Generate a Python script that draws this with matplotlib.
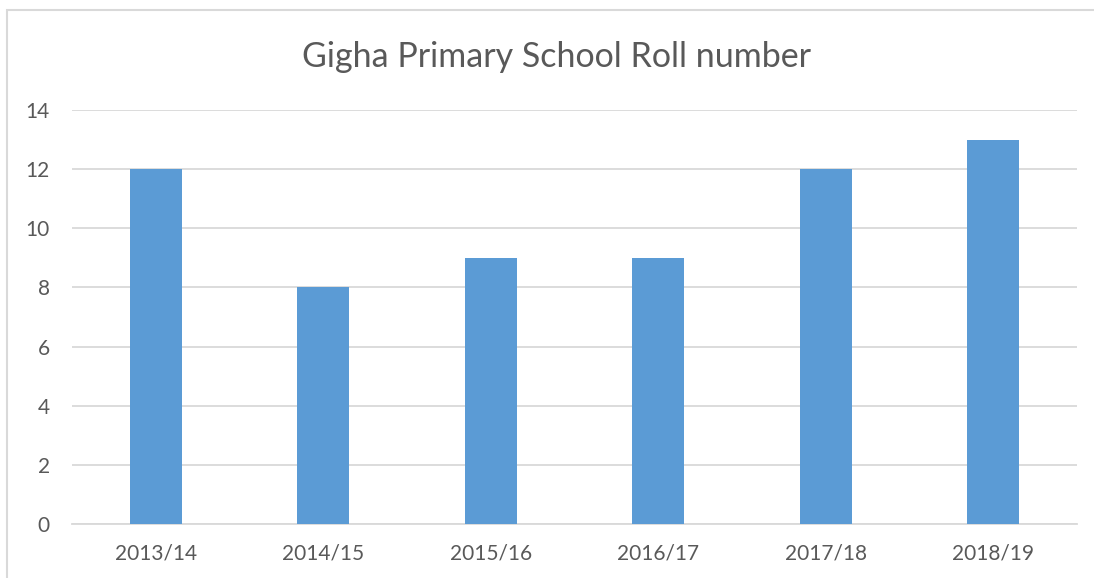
import matplotlib
matplotlib.use('Agg')
import matplotlib.pyplot as plt
from matplotlib.patches import Rectangle

# data
years = ['2013/14', '2014/15', '2015/16', '2016/17', '2017/18', '2018/19']
roll = [12, 8, 9, 9, 12, 13]
yticks = [0, 2, 4, 6, 8, 10, 12, 14]

plt.rcParams['font.family'] = ['Lato', 'DejaVu Sans']
txt = '#595959'
grid = '#d9d9d9'

fig = plt.figure(figsize=(10.94, 5.78), dpi=100)
ax = fig.add_axes([72/1094, 1 - 524/578, (1077 - 72)/1094, (524 - 110)/578])

x = range(len(years))
ax.bar(x, roll, width=0.31, color='#5b9bd5', zorder=3)

ax.set_xlim(-0.5, len(years) - 0.5)
ax.set_ylim(0, 14)
ax.set_yticks(yticks)
ax.set_xticks(list(x))
ax.set_xticklabels(years)
ax.yaxis.grid(True, color=grid, linewidth=1.3, zorder=0)
for s in ['top', 'right', 'left']:
    ax.spines[s].set_visible(False)
ax.spines['bottom'].set_color(grid)
ax.spines['bottom'].set_linewidth(1.3)
ax.tick_params(axis='both', length=0, labelsize=15, colors=txt)
ax.tick_params(axis='y', pad=16)
ax.tick_params(axis='x', pad=14)

fig.text(557/1094, 1 - 57/578, 'Gigha Primary School Roll number',
         ha='center', va='center', fontsize=24.5, color=txt)

# chart border (light grey frame)
fig.patches.append(Rectangle((7/1094, -0.05), 1.2, 1 - 10/578 + 0.05,
                             transform=fig.transFigure, fill=False,
                             edgecolor=grid, linewidth=1.5))

fig.savefig('out.png', dpi=100)
